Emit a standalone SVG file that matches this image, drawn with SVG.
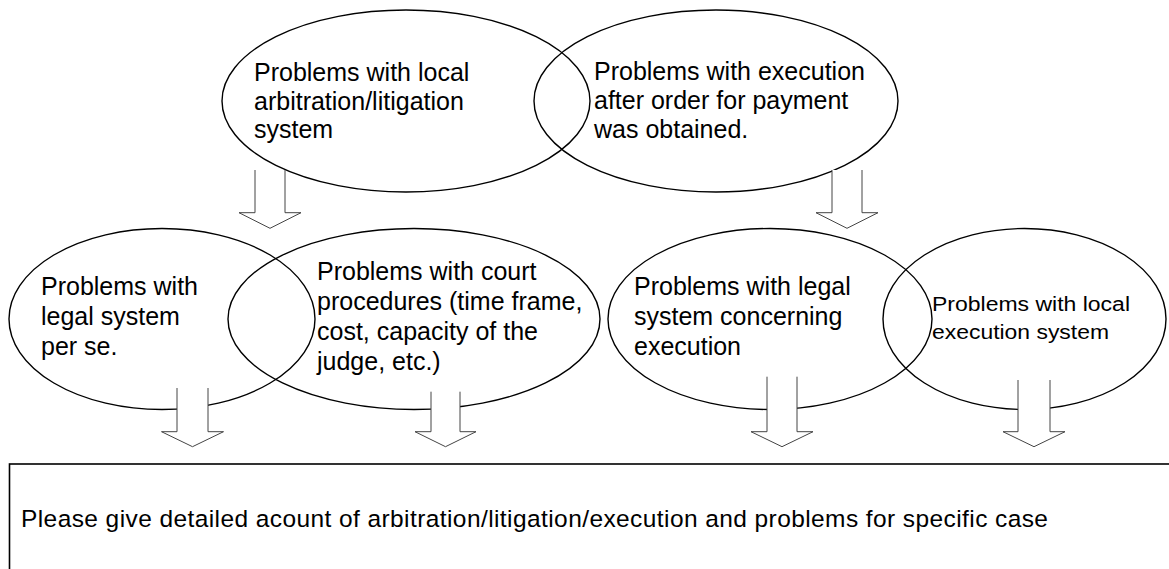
<svg xmlns="http://www.w3.org/2000/svg" width="1169" height="569" viewBox="0 0 1169 569">
<style>
.node ellipse{fill:none;stroke:#000;stroke-width:1.4}
.t{font-family:"Liberation Sans",Arial,sans-serif;font-size:25px;fill:#000}
.ts{font-family:"Liberation Sans",Arial,sans-serif;font-size:20px;fill:#000}
.af{fill:#fff;stroke:none}
.al{fill:none;stroke:#444;stroke-width:1}
.box{fill:#fff;stroke:#000;stroke-width:1.6}
</style>
<rect width="1169" height="569" fill="#fff"/>
<g id="n-local-arbitration" class="node">
<ellipse cx="406" cy="101" rx="184" ry="91"/>
<text class="t" x="254" y="81">Problems with local</text>
<text class="t" x="254" y="110">arbitration/litigation</text>
<text class="t" x="254" y="138">system</text>
</g>
<g id="n-execution-after-order" class="node">
<ellipse cx="716" cy="101" rx="182" ry="91"/>
<text class="t" x="594" y="80">Problems with execution</text>
<text class="t" x="594" y="109">after order for payment</text>
<text class="t" x="594" y="138">was obtained.</text>
</g>
<g id="n-legal-system" class="node">
<ellipse cx="162" cy="319" rx="153" ry="90.5"/>
<text class="t" x="41" y="295">Problems with</text>
<text class="t" x="41" y="325">legal system</text>
<text class="t" x="41" y="355">per se.</text>
</g>
<g id="n-court-procedures" class="node">
<ellipse cx="414" cy="319" rx="186" ry="90.5"/>
<text class="t" x="317" y="280">Problems with court</text>
<text class="t" x="317" y="310">procedures (time frame,</text>
<text class="t" x="317" y="340">cost, capacity of the</text>
<text class="t" x="317" y="370">judge, etc.)</text>
</g>
<g id="n-legal-execution" class="node">
<ellipse cx="770" cy="319" rx="162" ry="90.5"/>
<text class="t" x="634" y="295">Problems with legal</text>
<text class="t" x="634" y="325">system concerning</text>
<text class="t" x="634" y="355">execution</text>
</g>
<g id="n-local-execution" class="node">
<ellipse cx="1024.5" cy="319" rx="141.5" ry="90.5"/>
<text class="ts" x="932" y="311" textLength="198" lengthAdjust="spacingAndGlyphs">Problems with local</text>
<text class="ts" x="932" y="339" textLength="177" lengthAdjust="spacingAndGlyphs">execution system</text>
</g>
<g id="connectors">
<polygon class="af" points="255,170 285,170 285,212.7 301,212.7 270,228.3 239,212.7 255,212.7"/>
<polyline class="al" points="255,170 255,212.7 239,212.7 270,228.3 301,212.7 285,212.7 285,170"/>
<polygon class="af" points="832,170 862,170 862,212.7 878,212.7 847,228.3 816,212.7 832,212.7"/>
<polyline class="al" points="832,170 832,212.7 816,212.7 847,228.3 878,212.7 862,212.7 862,170"/>
<polygon class="af" points="177,388 208,388 208,431.7 223.5,431.7 192.5,446.7 161.5,431.7 177,431.7"/>
<polyline class="al" points="177,388 177,431.7 161.5,431.7 192.5,446.7 223.5,431.7 208,431.7 208,388"/>
<polygon class="af" points="431,391.7 460,391.7 460,431.7 476,431.7 445.5,446.7 415,431.7 431,431.7"/>
<polyline class="al" points="431,391.7 431,431.7 415,431.7 445.5,446.7 476,431.7 460,431.7 460,391.7"/>
<polygon class="af" points="767,376.7 797,376.7 797,431.7 813,431.7 782,446.7 751,431.7 767,431.7"/>
<polyline class="al" points="767,376.7 767,431.7 751,431.7 782,446.7 813,431.7 797,431.7 797,376.7"/>
<polygon class="af" points="1018,380 1050,380 1050,431.7 1065,431.7 1034,446.7 1003,431.7 1018,431.7"/>
<polyline class="al" points="1018,380 1018,431.7 1003,431.7 1034,446.7 1065,431.7 1050,431.7 1050,380"/>
</g>
<g id="n-detailed-account">
<rect class="box" x="9.5" y="464" width="1170" height="120"/>
<text class="t" x="21" y="527" style="font-size:24.5px" textLength="1027" lengthAdjust="spacing">Please give detailed acount of arbitration/litigation/execution and problems for specific case</text>
</g>
</svg>
